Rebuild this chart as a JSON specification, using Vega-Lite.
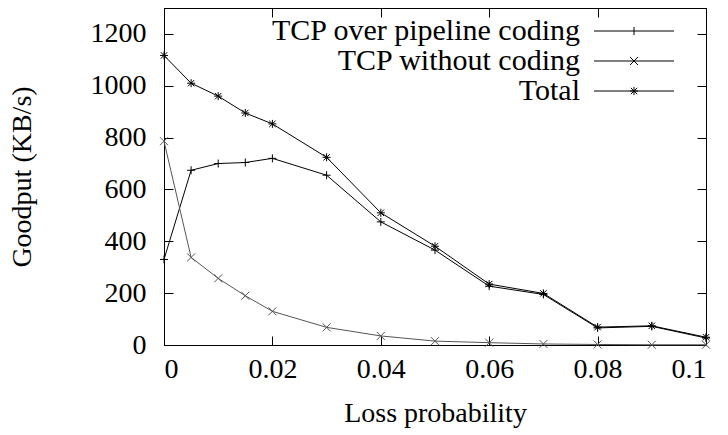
{
  "$schema": "https://vega.github.io/schema/vega-lite/v6.json",
  "width": 542,
  "height": 337,
  "autosize": "none",
  "padding": {"left": 164, "top": 8, "right": 22, "bottom": 90},
  "background": "white",
  "data": {"values": [
    {"p": 0, "series": "TCP over pipeline coding", "v": 330},
    {"p": 0.005, "series": "TCP over pipeline coding", "v": 674},
    {"p": 0.01, "series": "TCP over pipeline coding", "v": 700},
    {"p": 0.015, "series": "TCP over pipeline coding", "v": 704},
    {"p": 0.02, "series": "TCP over pipeline coding", "v": 720},
    {"p": 0.03, "series": "TCP over pipeline coding", "v": 655},
    {"p": 0.04, "series": "TCP over pipeline coding", "v": 475},
    {"p": 0.05, "series": "TCP over pipeline coding", "v": 366},
    {"p": 0.06, "series": "TCP over pipeline coding", "v": 227},
    {"p": 0.07, "series": "TCP over pipeline coding", "v": 195},
    {"p": 0.08, "series": "TCP over pipeline coding", "v": 66},
    {"p": 0.09, "series": "TCP over pipeline coding", "v": 72},
    {"p": 0.1, "series": "TCP over pipeline coding", "v": 27},
    {"p": 0, "series": "TCP without coding", "v": 786},
    {"p": 0.005, "series": "TCP without coding", "v": 338},
    {"p": 0.01, "series": "TCP without coding", "v": 257},
    {"p": 0.015, "series": "TCP without coding", "v": 190},
    {"p": 0.02, "series": "TCP without coding", "v": 130},
    {"p": 0.03, "series": "TCP without coding", "v": 68},
    {"p": 0.04, "series": "TCP without coding", "v": 35},
    {"p": 0.05, "series": "TCP without coding", "v": 15},
    {"p": 0.06, "series": "TCP without coding", "v": 9},
    {"p": 0.07, "series": "TCP without coding", "v": 4},
    {"p": 0.08, "series": "TCP without coding", "v": 2},
    {"p": 0.09, "series": "TCP without coding", "v": 1},
    {"p": 0.1, "series": "TCP without coding", "v": 1},
    {"p": 0, "series": "Total", "v": 1117},
    {"p": 0.005, "series": "Total", "v": 1010},
    {"p": 0.01, "series": "Total", "v": 960},
    {"p": 0.015, "series": "Total", "v": 895},
    {"p": 0.02, "series": "Total", "v": 853},
    {"p": 0.03, "series": "Total", "v": 724},
    {"p": 0.04, "series": "Total", "v": 510},
    {"p": 0.05, "series": "Total", "v": 381},
    {"p": 0.06, "series": "Total", "v": 235},
    {"p": 0.07, "series": "Total", "v": 199},
    {"p": 0.08, "series": "Total", "v": 69},
    {"p": 0.09, "series": "Total", "v": 74},
    {"p": 0.1, "series": "Total", "v": 30}
  ]},
  "layer": [
    {
      "mark": {"type": "line", "strokeWidth": 1, "clip": false},
      "encoding": {
        "x": {"field": "p", "type": "quantitative", "scale": {"domain": [0, 0.1], "nice": false},
              "axis": {"values": [0, 0.02, 0.04, 0.06, 0.08, 0.1], "format": "~g", "title": "Loss probability", "labelPadding": 19, "titlePadding": 16}},
        "y": {"field": "v", "type": "quantitative", "scale": {"domain": [0, 1300], "nice": false},
              "axis": {"values": [0, 200, 400, 600, 800, 1000, 1200], "format": "d", "title": "Goodput (KB/s)", "labelPadding": 27, "titlePadding": 54}},
        "detail": {"field": "series", "type": "nominal"},
        "stroke": {"condition": {"test": "datum.series === 'TCP without coding'", "value": "#555555"}, "value": "#000000"}
      }
    },
    {
      "mark": {"type": "point", "filled": false, "strokeWidth": 1, "opacity": 1, "size": 64, "clip": false},
      "encoding": {
        "x": {"field": "p", "type": "quantitative", "axis": null},
        "y": {"field": "v", "type": "quantitative", "axis": null},
        "stroke": {"condition": {"test": "datum.series === 'TCP without coding'", "value": "#555555"}, "value": "#000000"},
        "shape": {"field": "series", "type": "nominal",
                  "scale": {"domain": ["TCP over pipeline coding", "TCP without coding", "Total"],
                            "range": ["M-1,0H1M0,-1V1", "M-1,-1L1,1M-1,1L1,-1", "M-1,0H1M0,-1V1M-0.8,-0.8L0.8,0.8M-0.8,0.8L0.8,-0.8"]},
                  "legend": null}
      }
    },
    {
      "transform": [{"filter": "false"}],
      "mark": {"type": "point", "filled": false, "strokeWidth": 1, "color": "black", "size": 64},
      "encoding": {
        "x": {"field": "p", "type": "quantitative", "axis": null},
        "y": {"field": "v", "type": "quantitative", "axis": null},
        "shape": {"field": "series", "type": "nominal",
                  "scale": {"domain": ["TCP over pipeline coding", "TCP without coding", "Total"],
                            "range": ["M-10,0H10M0,-1V1", "M-10,0H10M-1,-1L1,1M-1,1L1,-1", "M-10,0H10M-1,0H1M0,-1V1M-0.8,-0.8L0.8,0.8M-0.8,0.8L0.8,-0.8"]}}
      }
    },
    {
      "mark": {"type": "point", "opacity": 0},
      "encoding": {
        "x": {"field": "p", "type": "quantitative", "axis": {"orient": "top", "values": [0, 0.02, 0.04, 0.06, 0.08, 0.1], "labels": false, "title": null}},
        "y": {"field": "v", "type": "quantitative", "axis": {"orient": "right", "values": [0, 200, 400, 600, 800, 1000, 1200], "labels": false, "title": null}}
      }
    }
  ],
  "resolve": {"axis": {"x": "independent", "y": "independent"}, "scale": {"shape": "independent"}},
  "config": {
    "font": "Liberation Serif",
    "view": {"stroke": "black", "strokeWidth": 1},
    "axis": {
      "labelFont": "Liberation Serif", "labelFontSize": 28, "labelColor": "black",
      "titleFont": "Liberation Serif", "titleFontSize": 28, "titleFontWeight": "normal", "titleColor": "black",
      "domainColor": "black", "domainWidth": 1, "tickColor": "black", "tickWidth": 1, "tickSize": -9, "grid": false
    },
    "legend": {
      "title": null,
      "orient": "none",
      "legendX": 455,
      "legendY": 8,
      "labelAlign": "right",
      "labelOffset": -69,
      "labelFont": "Liberation Serif",
      "labelFontSize": 30,
      "labelColor": "black",
      "labelLimit": 0,
      "rowPadding": -2,
      "symbolSize": 64,
      "symbolStrokeWidth": 1,
      "symbolStrokeColor": "black",
      "symbolFillColor": "transparent",
      "symbolOpacity": 1
    }
  },
  "encoding": {}
}
